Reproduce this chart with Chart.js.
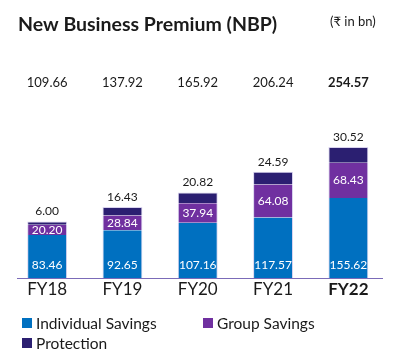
<!DOCTYPE html>
<html>
<head>
<meta charset="utf-8">
<script src="https://cdn.jsdelivr.net/npm/chart.js@4"></script>
<style>
  html, body { margin: 0; padding: 0; background: #fff; }
  #wrap { position: relative; width: 400px; height: 364px; }
</style>
</head>
<body>
<div id="wrap"><canvas id="nbpChart" width="400" height="364"></canvas></div>
<script>
const years = ["FY18", "FY19", "FY20", "FY21", "FY22"];
const individualSavings = [83.46, 92.65, 107.16, 117.57, 155.62];
const groupSavings = [20.20, 28.84, 37.94, 64.08, 68.43];
const protection = [6.00, 16.43, 20.82, 24.59, 30.52];
const totals = [109.66, 137.92, 165.92, 206.24, 254.57];

const FONT = "Lato, 'Open Sans', sans-serif";
const BLUE = "#0070c0";
const PURPLE = "#7030a0";
const NAVY = "#2b1f71";
const EDGE = "#d9d3ee";

// draws title, totals, segment values, year labels and legend
const labelsPlugin = {
    id: "labels",
    afterDatasetsDraw(chart) {
        const ctx = chart.ctx;
        const xs = chart.scales.x;
        const area = chart.chartArea;
        ctx.save();

        ctx.fillStyle = "#1a1a1a";
        ctx.textBaseline = "middle";
        ctx.textAlign = "left";
        ctx.font = "bold 19.5px " + FONT;
        ctx.fillText("New Business Premium (NBP)", 18, 25);
        ctx.font = "13px " + FONT;
        ctx.fillText("(₹ in bn)", 330, 22);

        // baseline
        ctx.strokeStyle = "#7b6bb8";
        ctx.lineWidth = 1;
        ctx.beginPath();
        ctx.moveTo(17, area.bottom + 0.5);
        ctx.lineTo(383, area.bottom + 0.5);
        ctx.stroke();

        const m1 = chart.getDatasetMeta(1).data;
        const m2 = chart.getDatasetMeta(2).data;

        ctx.textAlign = "center";
        years.forEach((yr, i) => {
            const x = xs.getPixelForValue(i);
            const last = i === years.length - 1;

            ctx.fillStyle = "#1a1a1a";
            ctx.font = (last ? "bold " : "") + "13px " + FONT;
            ctx.fillText(totals[i].toFixed(2), x, 83);

            ctx.font = (last ? "bold " : "") + "17px " + FONT;
            ctx.fillText(yr, x, 290);

            ctx.font = "12px " + FONT;
            ctx.fillText(protection[i].toFixed(2), x, m2[i].y - 10);

            ctx.fillStyle = "#ffffff";
            ctx.fillText(groupSavings[i].toFixed(2), x, (m1[i].y + m1[i].base) / 2);
            ctx.fillText(individualSavings[i].toFixed(2), x, area.bottom - 13);
        });

        // legend
        const items = [
            { text: "Individual Savings", color: BLUE, x: 22, y: 323 },
            { text: "Group Savings", color: PURPLE, x: 203, y: 323 },
            { text: "Protection", color: NAVY, x: 22, y: 343 }
        ];
        ctx.textAlign = "left";
        ctx.font = "15.5px " + FONT;
        items.forEach(it => {
            ctx.fillStyle = it.color;
            ctx.fillRect(it.x, it.y - 5, 10, 10);
            ctx.fillStyle = "#1a1a1a";
            ctx.fillText(it.text, it.x + 14, it.y + 0.5);
        });

        ctx.restore();
    }
};

const sideEdge = { top: 0, bottom: 0, left: 1, right: 1 };

new Chart(document.getElementById("nbpChart"), {
    type: "bar",
    data: {
        labels: years,
        datasets: [
            { label: "Individual Savings", data: individualSavings, backgroundColor: BLUE,
              borderColor: EDGE, borderWidth: sideEdge, borderSkipped: false },
            { label: "Group Savings", data: groupSavings, backgroundColor: PURPLE,
              borderColor: EDGE, borderWidth: sideEdge, borderSkipped: false },
            { label: "Protection", data: protection, backgroundColor: NAVY,
              borderColor: EDGE, borderWidth: { top: 1, bottom: 0, left: 1, right: 1 }, borderSkipped: false }
        ]
    },
    options: {
        responsive: false,
        animation: false,
        devicePixelRatio: 1,
        layout: { padding: { left: 9.5, right: 14, top: 103, bottom: 86 } },
        datasets: { bar: { barPercentage: 0.53, categoryPercentage: 1 } },
        scales: {
            x: { stacked: true, display: false },
            y: { stacked: true, display: false, min: 0, max: 340 }
        },
        plugins: {
            legend: { display: false },
            tooltip: { enabled: false }
        }
    },
    plugins: [labelsPlugin]
});
</script>
</body>
</html>
